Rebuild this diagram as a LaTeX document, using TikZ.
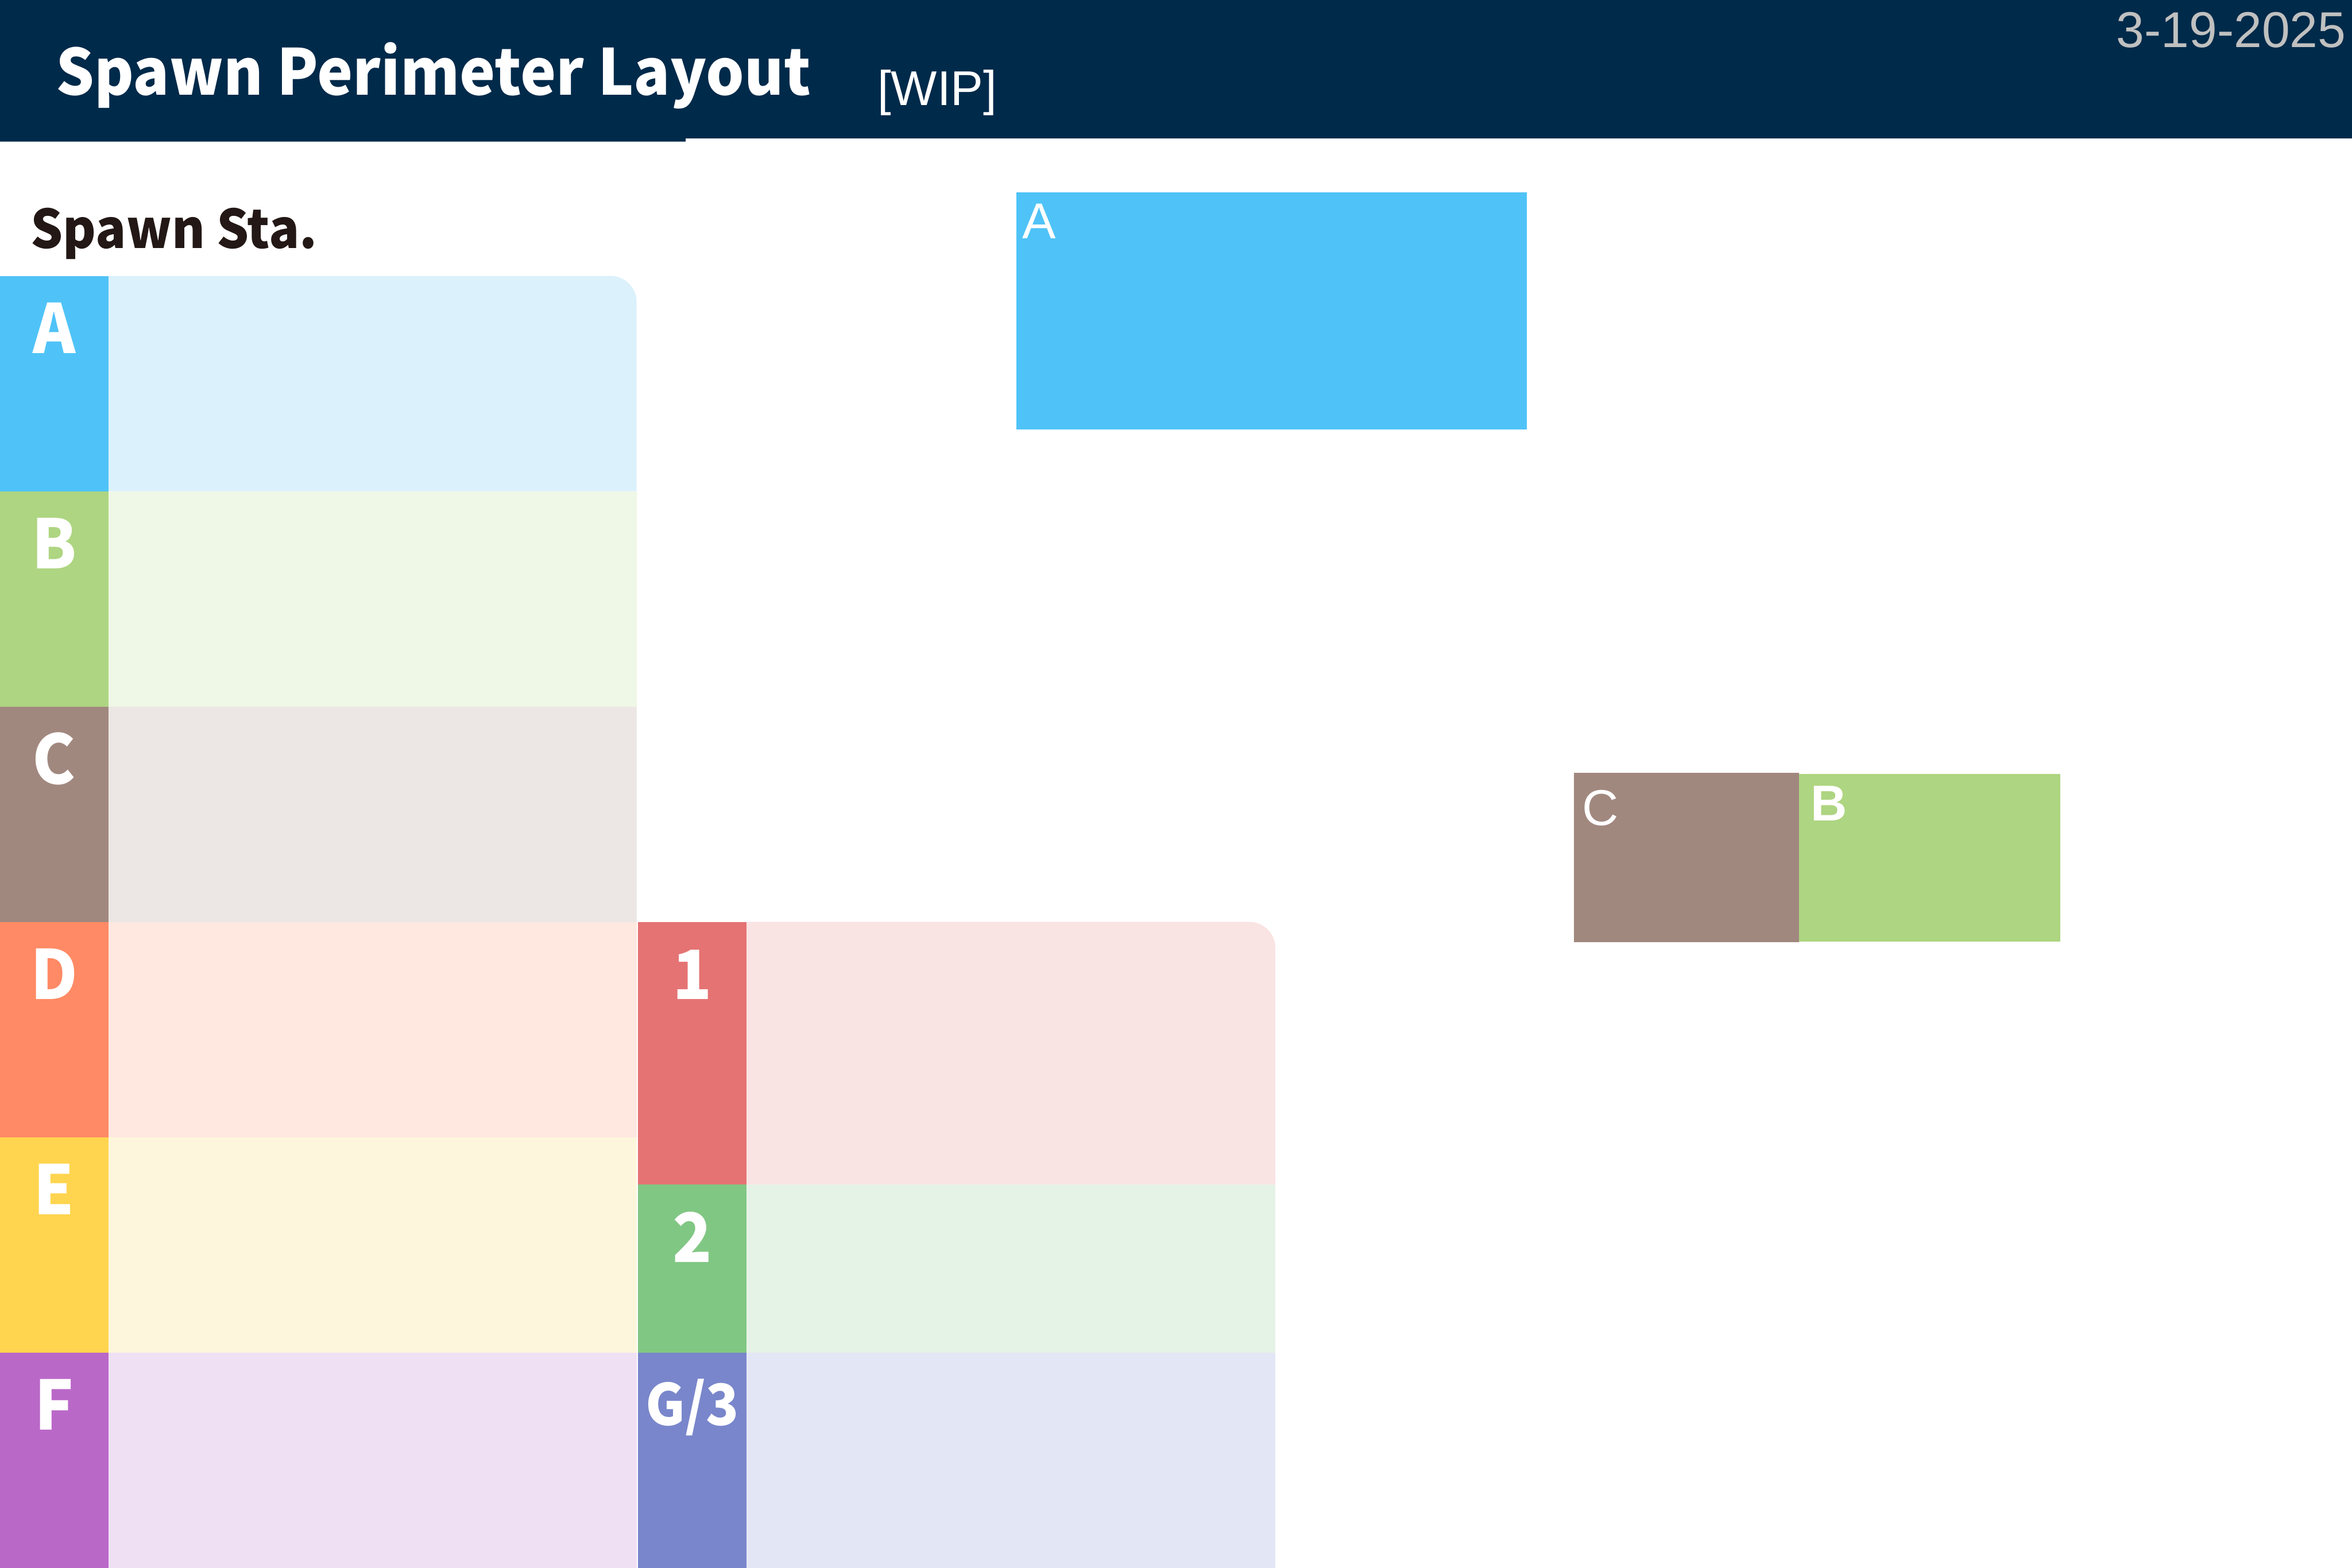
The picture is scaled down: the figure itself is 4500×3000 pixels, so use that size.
\documentclass[tikz,border=0pt]{standalone}
\usepackage{fontspec}
\setmainfont{Liberation Sans}
\newfontfamily\jpfont{Noto Sans CJK JP}[FakeStretch=0.95]

\definecolor{navy}{HTML}{002A4A}
\definecolor{ink}{HTML}{231815}
\definecolor{dategray}{HTML}{C0C0C0}
\definecolor{aDark}{HTML}{4FC3F7}   \definecolor{aLite}{HTML}{DBF1FC}
\definecolor{bDark}{HTML}{AED581}   \definecolor{bLite}{HTML}{EFF7E6}
\definecolor{cDark}{HTML}{A1887F}   \definecolor{cLite}{HTML}{ECE7E4}
\definecolor{dDark}{HTML}{FF8A65}   \definecolor{dLite}{HTML}{FFE8E0}
\definecolor{eDark}{HTML}{FFD54F}   \definecolor{eLite}{HTML}{FEF6DC}
\definecolor{fDark}{HTML}{BA68C8}   \definecolor{fLite}{HTML}{EFE0F4}
\definecolor{oneDark}{HTML}{E57373} \definecolor{oneLite}{HTML}{FAE3E3}
\definecolor{twoDark}{HTML}{81C784} \definecolor{twoLite}{HTML}{E5F3E6}
\definecolor{gDark}{HTML}{7986CB}   \definecolor{gLite}{HTML}{E3E7F5}

\begin{document}
\begin{tikzpicture}[
    x=0.01cm, y=0.01cm,
    tab/.style     = {anchor=north west, inner sep=0pt, outer sep=0pt,
                      minimum width=2.07cm},
    cell/.style    = {anchor=north west, inner sep=0pt, outer sep=0pt,
                      minimum width=10.11cm},
    tag/.style     = {anchor=base, text=white, inner sep=0pt,
                      font=\jpfont\bfseries\fontsize{37}{40}\selectfont},
    zone/.style    = {anchor=north west, inner sep=0pt, outer sep=0pt},
    zonetag/.style = {anchor=base west, text=white, inner sep=0pt,
                      font=\fontsize{27.4}{30}\selectfont}
]
\useasboundingbox (0,0) rectangle (4500,3000);

% Header band
\fill[navy] (0,3000) -- (4500,3000) -- (4500,2735) -- (1312,2735)
            -- (1312,2729) -- (0,2729) -- cycle;
\node[anchor=base west, inner sep=0pt, text=white,
      font=\jpfont\bfseries\fontsize{34.5}{40}\selectfont] (title) at (106,2818) {Spawn Perimeter Layout};
\node[anchor=base west, inner sep=0pt, text=white,
      font=\fontsize{26.6}{30}\selectfont] (wip) at (1678,2798) {[WIP]};
\node[anchor=base east, inner sep=0pt, text=dategray,
      font=\fontsize{27.4}{30}\selectfont] (date) at (4489,2909) {3-19-2025};

% Station table
\node[anchor=base west, inner sep=0pt, text=ink,
      font=\jpfont\bfseries\fontsize{29}{32}\selectfont] (heading) at (58,2525) {Spawn Sta.};

\fill[aLite] (207,2472) -- (1168,2472) arc[start angle=90, end angle=0, radius=50]
             -- (1218,2060) -- (207,2060) -- cycle;
\node[cell, fill=bLite, minimum height=4.12cm] (cellB) at (207,2060) {};
\node[cell, fill=cLite, minimum height=4.12cm] (cellC) at (207,1648) {};
\node[cell, fill=dLite, minimum height=4.12cm] (cellD) at (207,1236) {};
\node[cell, fill=eLite, minimum height=4.12cm] (cellE) at (207,824)  {};
\node[cell, fill=fLite, minimum height=4.12cm] (cellF) at (207,412)  {};

\node[tab, fill=aDark, minimum height=4.12cm] (tabA) at (0,2472) {};
\node[tab, fill=bDark, minimum height=4.12cm] (tabB) at (0,2060) {};
\node[tab, fill=cDark, minimum height=4.12cm] (tabC) at (0,1648) {};
\node[tab, fill=dDark, minimum height=4.12cm] (tabD) at (0,1236) {};
\node[tab, fill=eDark, minimum height=4.12cm] (tabE) at (0,824)  {};
\node[tab, fill=fDark, minimum height=4.12cm] (tabF) at (0,412)  {};

\node[tag] (tagA) at (103.5,2324) {A};
\node[tag] (tagB) at (103.5,1912) {B};
\node[tag] (tagC) at (103.5,1500) {C};
\node[tag] (tagD) at (103.5,1088) {D};
\node[tag] (tagE) at (103.5,676)  {E};
\node[tag] (tagF) at (103.5,264)  {F};

% Numbered table
\fill[oneLite] (1428,1236) -- (2390,1236) arc[start angle=90, end angle=0, radius=50]
               -- (2440,733) -- (1428,733) -- cycle;
\node[cell, fill=twoLite, minimum height=3.21cm] (cellTwo) at (1428,733) {};
\node[cell, fill=gLite,   minimum height=4.12cm] (cellG)   at (1428,412) {};

\node[tab, fill=oneDark, minimum height=5.03cm] (tabOne) at (1221,1236) {};
\node[tab, fill=twoDark, minimum height=3.21cm] (tabTwo) at (1221,733)  {};
\node[tab, fill=gDark,   minimum height=4.12cm] (tabG)   at (1221,412)  {};

\node[tag] (tagOne) at (1324.5,1088) {1};
\node[tag] (tagTwo) at (1324.5,585)  {2};
\node[tag, font=\jpfont\bfseries\fontsize{31}{36}\selectfont] (tagG) at (1324.5,273) {G/3};

% Zone boxes
\node[zone, fill=aDark, minimum width=9.76cm, minimum height=4.53cm] (zoneA) at (1945,2632) {};
\node[zonetag] (zoneTagA) at (1955,2544) {A};

\node[zone, fill=cDark, minimum width=4.31cm, minimum height=3.24cm] (zoneC) at (3011,1521) {};
\node[zone, fill=bDark, minimum width=5.00cm, minimum height=3.21cm] (zoneB) at (3442,1519) {};
\node[zonetag] (zoneTagC) at (3027,1421) {C};
\node[zonetag, font=\bfseries\fontsize{27.4}{30}\selectfont] (zoneTagB) at (3464,1429) {B};

\end{tikzpicture}
\end{document}
